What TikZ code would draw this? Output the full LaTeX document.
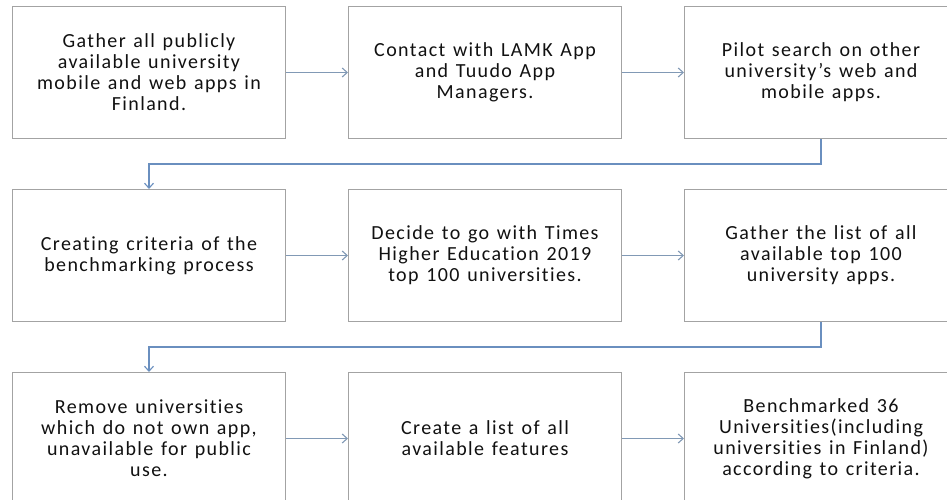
\documentclass[tikz,border=0pt]{standalone}
\usepackage{fontspec}
\setmainfont{Carlito}[LetterSpace=7,WordSpace=1.3,Ligatures=NoCommon]
\usetikzlibrary{positioning,arrows.meta}
\definecolor{ink}     {HTML}{111111}
\definecolor{boxline} {HTML}{A3A3A3}
\definecolor{flow}    {HTML}{8199B5}
\definecolor{wrapline}{HTML}{6A8FBF}
\tikzset{
  % --- edges
  e/.style = {-{Straight Barb[length=5pt,width=9pt]}, line width=1.1pt, draw=flow},
  w/.style = {e, draw=wrapline},
}

\begin{document}
\begin{tikzpicture}[x=1pt,y=1pt,
  b/.style={draw=boxline,line width=1pt,fill=white,align=center,inner sep=0pt,
            minimum width=273pt,minimum height=132pt,text=ink,
            font=\fontsize{20}{21}\selectfont},
]
  \clip (0,0) rectangle (947,-500);
  \node[b,anchor=north west] (a) at (12,-6) {Gather all publicly\\available university\\mobile and web apps in\\Finland.};
  \node[b,right=62pt of a] (b) {Contact with LAMK App\\and Tuudo App\\Managers.};
  \node[b,right=62pt of b] (c) {Pilot search on other\\university's web and\\mobile apps.};
  \node[b,below=50pt of a] (d) {Creating criteria of the\\benchmarking process};
  \node[b,right=62pt of d] (f) {Decide to go with Times\\Higher Education 2019\\top 100 universities.};
  \node[b,right=62pt of f] (g) {Gather the list of all\\available top 100\\university apps.};
  \node[b,below=50pt of d] (h) {Remove universities\\which do not own app,\\unavailable for public\\use.};
  \node[b,right=62pt of h] (k) {Create a list of all\\available features};
  \node[b,right=62pt of k] (m) {Benchmarked 36\\Universities(including\\universities in Finland)\\according to criteria.};
  \draw[e] (a)--(b); \draw[e] (b)--(c); \draw[e] (d)--(f); \draw[e] (f)--(g); \draw[e] (h)--(k); \draw[e] (k)--(m);
  \draw[w] (c.south) -- ++(0,-25) -| (d.north);
  \draw[w] (g.south) -- ++(0,-25) -| (h.north);
\end{tikzpicture}
\end{document}
